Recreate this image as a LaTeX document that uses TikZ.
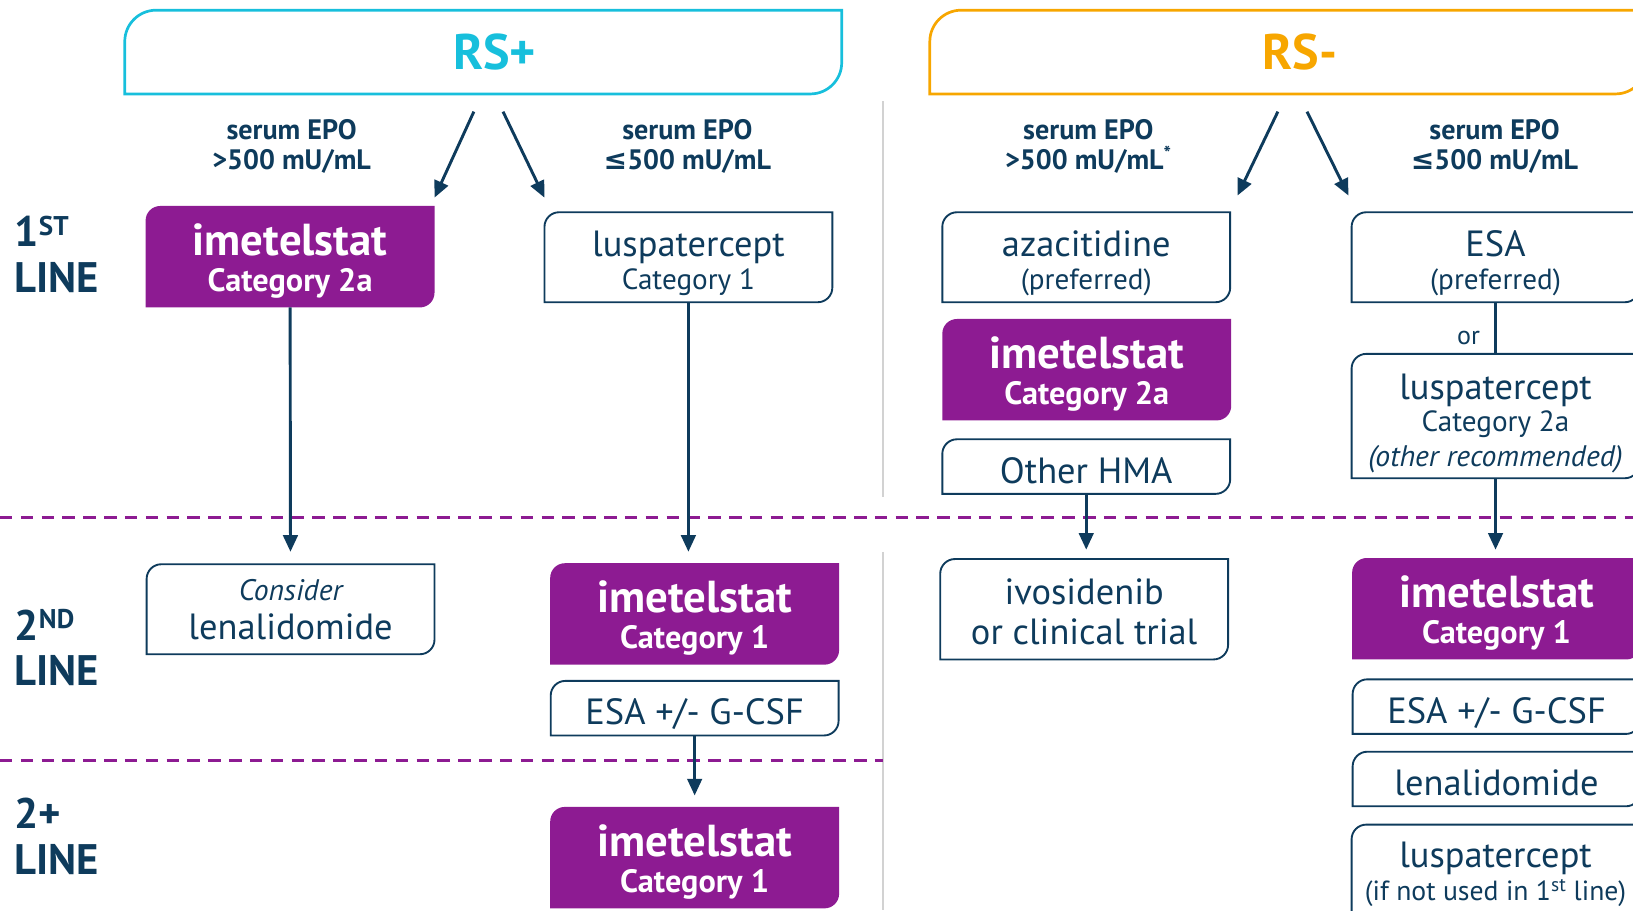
\documentclass[tikz,border=0pt]{standalone}
\usepackage{fontspec}
\setmainfont{PT Sans}
\newfontfamily\symfam{DejaVu Sans}
\usetikzlibrary{arrows.meta,calc,backgrounds}
\definecolor{navy}{HTML}{0E3B5C}
\definecolor{imetel}{HTML}{8D1B92}
\definecolor{rsplus}{HTML}{17BFDC}
\definecolor{rsminus}{HTML}{F7A600}
\definecolor{gridgray}{HTML}{D2D2D2}
\newcommand\namefont{\fontsize{35}{29}\selectfont}
\newcommand\notefont{\fontsize{28}{29}\selectfont}
\newcommand\pname{\fontsize{43}{35}\selectfont}
\newcommand\ifont{\itshape\fontsize{28.5}{29}\selectfont}
\newcommand\ordsup[1]{\raisebox{11pt}{\fontsize{26}{26}\selectfont #1}}
\newcommand\hstrut[1]{\rule{0pt}{#1pt}}
\newcommand\dstrut[1]{\rule[-#1pt]{0pt}{#1pt}}
% outline with only top-left and bottom-right corners rounded
\newcommand\tlbr[2]{([yshift=-#2]#1.north west) .. controls ([yshift=-0.45*#2]#1.north west) and ([xshift=0.45*#2]#1.north west) .. ([xshift=#2]#1.north west) -- (#1.north east) -- ([yshift=#2]#1.south east) .. controls ([yshift=0.45*#2]#1.south east) and ([xshift=-0.45*#2]#1.south east) .. ([xshift=-#2]#1.south east) -- (#1.south west) -- cycle}

\begin{document}
\lineskiplimit=-100pt
\begin{tikzpicture}[x=1pt,y=-1pt,
  txt/.style={text=navy,align=center,inner sep=0pt,font=\notefont},
  wbox/.style={txt,minimum width=276pt,minimum height=86pt},
  slim/.style={txt,font=\namefont,minimum width=276pt,minimum height=52pt,text height=42pt,text depth=10pt},
  pbox/.style={txt,text=white,font=\fontsize{31}{35}\selectfont\bfseries,minimum width=277pt,minimum height=97pt},
  hdr/.style={inner sep=0pt,minimum width=688pt,minimum height=80pt,font=\fontsize{48}{48}\selectfont\bfseries},
  epo/.style={txt,font=\fontsize{27}{29}\selectfont\bfseries},
  rowlab/.style={txt,align=left,anchor=north west,font=\fontsize{41}{44}\selectfont\bfseries},
  boxline/.style={draw=navy,line width=1.8pt},
  arr/.style={-{Triangle[length=16pt,width=14pt]},navy,line width=2.8pt},
  tierline/.style={imetel,line width=2.6pt,dash pattern=on 12pt off 8pt}]
  \useasboundingbox (0,0) rectangle (1568,874);
  % columns at x = 279, 664, 1043, 1436 ; tiers split at y = 497 and 730
  \draw[gridgray,line width=1.6pt] (848,97) -- (848,477) (848,530) -- (848,874);
  \draw[tierline] (0,497) -- (1568,497);
  \draw[tierline] (0,730) -- (848,730);

  \node[hdr,text=rsplus]  (rsp) at (464,50)  {\hspace*{22pt}RS+};
  \node[hdr,text=rsminus] (rsm) at (1237,50) {\hspace*{22pt}RS-};
  \node[epo] (ep1) at (280,140.5)  {serum EPO\\>500 mU/mL};
  \node[epo] (ep2) at (660,140.5)  {serum EPO\\{\symfam ≤}500 mU/mL};
  \node[epo] (ep3) at (1045,140.5) {serum EPO\\>500 mU/mL\textsuperscript{*}};
  \node[epo] (ep4) at (1435,140.5) {serum EPO\\{\symfam ≤}500 mU/mL};

  \node[rowlab] (r1) at (14,207) {1\ordsup{ST}\\LINE};
  \node[rowlab] (r2) at (14,585) {2\ordsup{ND}\\LINE};
  \node[rowlab] (r3) at (14,766) {2+\\LINE};

  % first line
  \node[pbox] (imP1) at (278.5,246.5) {{\pname\hstrut{42}imetelstat}\\Category 2a\dstrut{10}};
  \node[wbox] (lus1) at (661,247)     {{\namefont\hstrut{40}luspatercept}\\[2pt]Category 1\dstrut{10}};
  \node[wbox] (aza)  at (1043,247)    {{\namefont\hstrut{40}azacitidine}\\[2pt](preferred)\dstrut{10}};
  \node[pbox] (imP2) at (1043.5,355)  {{\pname\hstrut{42}imetelstat}\\Category 2a\dstrut{10}};
  \node[slim] (hma)  at (1043,448)    {Other HMA};
  \node[wbox] (esa1) at (1436,247)    {{\namefont\hstrut{40}ESA}\\[2pt](preferred)\dstrut{10}};
  \node[txt,font=\fontsize{25}{25}\selectfont] (or) at (1410,325) {or};
  \node[wbox,minimum height=119pt] (lus2) at (1436,399.5)
       {{\namefont\hstrut{42}luspatercept}\\[2pt]Category 2a\\[4pt]{\ifont (other recommended)}\dstrut{10}};
  % second line
  \node[wbox] (cons) at (279,585)     {{\ifont\hstrut{31}Consider}\\[8pt]{\namefont lenalidomide}\dstrut{10}};
  \node[pbox] (imP3) at (667,589.5)   {{\pname\hstrut{42}imetelstat}\\Category 1\dstrut{10}};
  \node[slim] (esa2) at (667,680)     {ESA +/- G-CSF};
  \node[wbox,font=\namefont,minimum height=96pt] (ivo) at (1041,585) {\hstrut{39}ivosidenib\\[10pt]or clinical trial\dstrut{10}};
  \node[pbox] (imP4) at (1437,584.5)  {{\pname\hstrut{42}imetelstat}\\Category 1\dstrut{10}};
  \node[slim] (esa3) at (1437,678.5)  {ESA +/- G-CSF};
  \node[slim] (len)  at (1437,748)    {lenalidomide};
  \node[wbox,minimum height=102pt] (lus3) at (1436,843)
       {{\namefont\hstrut{30}luspatercept}\\[3pt]{\fontsize{26.6}{29}\selectfont (if not used in 1\textsuperscript{st} line)}\dstrut{18}};
  % 2+ line
  \node[pbox] (imP5) at (667,823.5)   {{\pname\hstrut{42}imetelstat}\\Category 1\dstrut{10}};

  \foreach \n in {lus1,aza,hma,esa1,lus2,cons,esa2,ivo,esa3,len,lus3}
    \draw[boxline] \tlbr{\n}{14pt};
  \begin{scope}[on background layer]
    \foreach \n in {imP1,imP2,imP3,imP4,imP5}
      \fill[imetel] \tlbr{\n}{14pt};
  \end{scope}
  \draw[rsplus,line width=2.6pt]  \tlbr{rsp}{30pt};
  \draw[rsminus,line width=2.6pt] \tlbr{rsm}{30pt};

  \draw[arr] ([xshift=-9pt,yshift=-17pt]rsp.south)  -- ([yshift=8pt]imP1.north east);
  \draw[arr] ([xshift=19pt,yshift=-17pt]rsp.south)  -- ([yshift=14pt]lus1.north west);
  \draw[arr] ([xshift=-10pt,yshift=-17pt]rsm.south) -- ([xshift=7pt,yshift=16pt]aza.north east);
  \draw[arr] ([xshift=18pt,yshift=-17pt]rsm.south)  -- ([xshift=-3pt,yshift=16pt]esa1.north west);
  \draw[arr,shorten >=12pt] (imP1) -- (cons);
  \draw[arr,shorten >=11pt] (lus1.south) -- (lus1.south |- imP3.north);
  \draw[arr,shorten >=11pt] (esa2) -- (esa2 |- imP5.north);
  \draw[arr,shorten >=9pt]  (hma.south) -- (hma.south |- ivo.north);
  \draw[arr,shorten >=8pt]  (lus2) -- (lus2 |- imP4.north);
  \draw[navy,line width=2.8pt] (esa1) -- (lus2);
\end{tikzpicture}
\end{document}
